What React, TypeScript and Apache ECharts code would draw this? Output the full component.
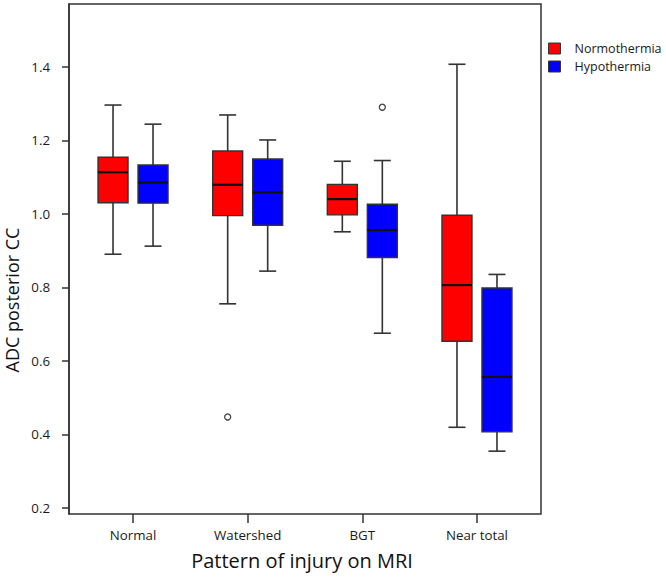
import React, { useEffect, useRef } from "react";
import * as echarts from "echarts";

const categories = ["Normal", "Watershed", "BGT", "Near total"];
// [min, Q1, median, Q3, max]
const normothermia = [
  [0.89, 1.03, 1.113, 1.154, 1.296],
  [0.755, 0.995, 1.079, 1.171, 1.269],
  [0.951, 0.997, 1.04, 1.08, 1.143],
  [0.419, 0.653, 0.806, 0.996, 1.407],
];
const hypothermia = [
  [0.912, 1.029, 1.085, 1.133, 1.244],
  [0.844, 0.969, 1.058, 1.149, 1.201],
  [0.675, 0.881, 0.956, 1.026, 1.145],
  [0.354, 0.407, 0.556, 0.798, 0.835],
];
const normothermiaOutliers = [[1, 0.447]];
const hypothermiaOutliers = [[2, 1.29]];
const yTicks = [0.2, 0.4, 0.6, 0.8, 1.0, 1.2, 1.4];

const FONT = "Open Sans";
const LINE = "#333333";

function boxRenderer(offset: number, fill: string) {
  return (params: any, api: any) => {
    const xi = api.value(0);
    const mn = api.value(1);
    const q1 = api.value(2);
    const med = api.value(3);
    const q3 = api.value(4);
    const mx = api.value(5);
    const cx = api.coord([xi, med])[0] + offset;
    const py = (v: number) => api.coord([xi, v])[1];
    const half = 15;
    const cap = 8.5;
    const lineStyle = { stroke: LINE, lineWidth: 1.6 };
    return {
      type: "group",
      children: [
        { type: "line", shape: { x1: cx, y1: py(mx), x2: cx, y2: py(q3) }, style: lineStyle },
        { type: "line", shape: { x1: cx, y1: py(q1), x2: cx, y2: py(mn) }, style: lineStyle },
        { type: "line", shape: { x1: cx - cap, y1: py(mx), x2: cx + cap, y2: py(mx) }, style: lineStyle },
        { type: "line", shape: { x1: cx - cap, y1: py(mn), x2: cx + cap, y2: py(mn) }, style: lineStyle },
        {
          type: "rect",
          shape: { x: cx - half, y: py(q3), width: half * 2, height: py(q1) - py(q3) },
          style: { fill, stroke: LINE, lineWidth: 1.4 },
        },
        {
          type: "line",
          shape: { x1: cx - half, y1: py(med), x2: cx + half, y2: py(med) },
          style: { stroke: "#111", lineWidth: 2.2 },
        },
      ],
    };
  };
}

function outlierRenderer(offset: number) {
  return (params: any, api: any) => {
    const c = api.coord([api.value(0), api.value(1)]);
    return {
      type: "circle",
      shape: { cx: c[0] + offset, cy: c[1], r: 3 },
      style: { fill: "#fff", stroke: "#444", lineWidth: 1.3 },
    };
  };
}

export default function App() {
  const ref = useRef<HTMLDivElement>(null);
  useEffect(() => {
    if (!ref.current) return;
    const chart = echarts.init(ref.current, null, { renderer: "svg" });
    const yMin = 0.183;
    const yMax = 1.571;
    chart.setOption({
      animation: false,
      backgroundColor: "#ffffff",
      textStyle: { fontFamily: FONT },
      grid: [
        { left: 69, right: 125, top: 4, bottom: 63, show: true, borderColor: LINE, borderWidth: 1.5, backgroundColor: "transparent" },
        { left: 75.7, right: 131.7, top: 4, bottom: 63 },
      ],
      xAxis: [
        { gridIndex: 0, type: "value", min: 0, max: 1, show: false },
        {
          gridIndex: 1,
          type: "category",
          data: categories,
          boundaryGap: true,
          axisLine: { show: false },
          axisTick: { show: true, alignWithLabel: true, length: 9, lineStyle: { color: LINE, width: 1.5 } },
          axisLabel: { fontSize: 13.3, color: "#1a1a1a", margin: 14, fontFamily: FONT },
          splitLine: { show: false },
        },
      ],
      yAxis: [
        {
          gridIndex: 0,
          type: "value",
          min: yMin,
          max: yMax,
          axisLine: { show: true, lineStyle: { color: LINE, width: 1.5 } },
          axisTick: { show: true, length: 7, customValues: yTicks, lineStyle: { color: LINE, width: 1.5 } },
          axisLabel: {
            fontSize: 13.3,
            color: "#1a1a1a",
            margin: 19,
            customValues: yTicks,
            formatter: (v: number) => v.toFixed(1),
            fontFamily: FONT,
          },
          splitLine: { show: false },
        },
        { gridIndex: 1, type: "value", min: yMin, max: yMax, show: false },
      ],
      legend: {
        orient: "vertical",
        left: 543,
        top: 37,
        itemWidth: 12,
        itemHeight: 11,
        itemGap: 5,
        textStyle: { fontSize: 12.5, color: "#1a1a1a", fontFamily: FONT, padding: [0, 0, 0, 9] },
        data: [
          { name: "Normothermia", icon: "rect", itemStyle: { color: "#ff0000", borderColor: LINE, borderWidth: 1 } },
          { name: "Hypothermia", icon: "rect", itemStyle: { color: "#0000ff", borderColor: LINE, borderWidth: 1 } },
        ],
      },
      graphic: [
        {
          type: "text",
          x: 302,
          y: 560,
          style: { text: "Pattern of injury on MRI", fontSize: 20, fontFamily: FONT, fill: "#111", align: "center", verticalAlign: "middle" },
        },
        {
          type: "text",
          x: 12,
          y: 300,
          rotation: Math.PI / 2,
          style: { text: "ADC posterior CC", fontSize: 18, fontFamily: FONT, fill: "#111", align: "center", verticalAlign: "middle" },
        },
      ],
      series: [
        {
          name: "Normothermia",
          type: "custom",
          xAxisIndex: 1,
          yAxisIndex: 1,
          itemStyle: { color: "#ff0000" },
          encode: { x: 0, y: [1, 2, 3, 4, 5] },
          data: categories.map((c, i) => [i, ...normothermia[i]]),
          renderItem: boxRenderer(-20, "#ff0000"),
        },
        {
          name: "Hypothermia",
          type: "custom",
          xAxisIndex: 1,
          yAxisIndex: 1,
          itemStyle: { color: "#0000ff" },
          encode: { x: 0, y: [1, 2, 3, 4, 5] },
          data: categories.map((c, i) => [i, ...hypothermia[i]]),
          renderItem: boxRenderer(20, "#0000ff"),
        },
        {
          name: "Normothermia outliers",
          type: "custom",
          xAxisIndex: 1,
          yAxisIndex: 1,
          encode: { x: 0, y: 1 },
          data: normothermiaOutliers,
          renderItem: outlierRenderer(-20),
        },
        {
          name: "Hypothermia outliers",
          type: "custom",
          xAxisIndex: 1,
          yAxisIndex: 1,
          encode: { x: 0, y: 1 },
          data: hypothermiaOutliers,
          renderItem: outlierRenderer(20),
        },
      ],
    });
    return () => chart.dispose();
  }, []);
  return <div ref={ref} style={{ width: 666, height: 577, position: "absolute", left: 0, top: 0 }} />;
}
